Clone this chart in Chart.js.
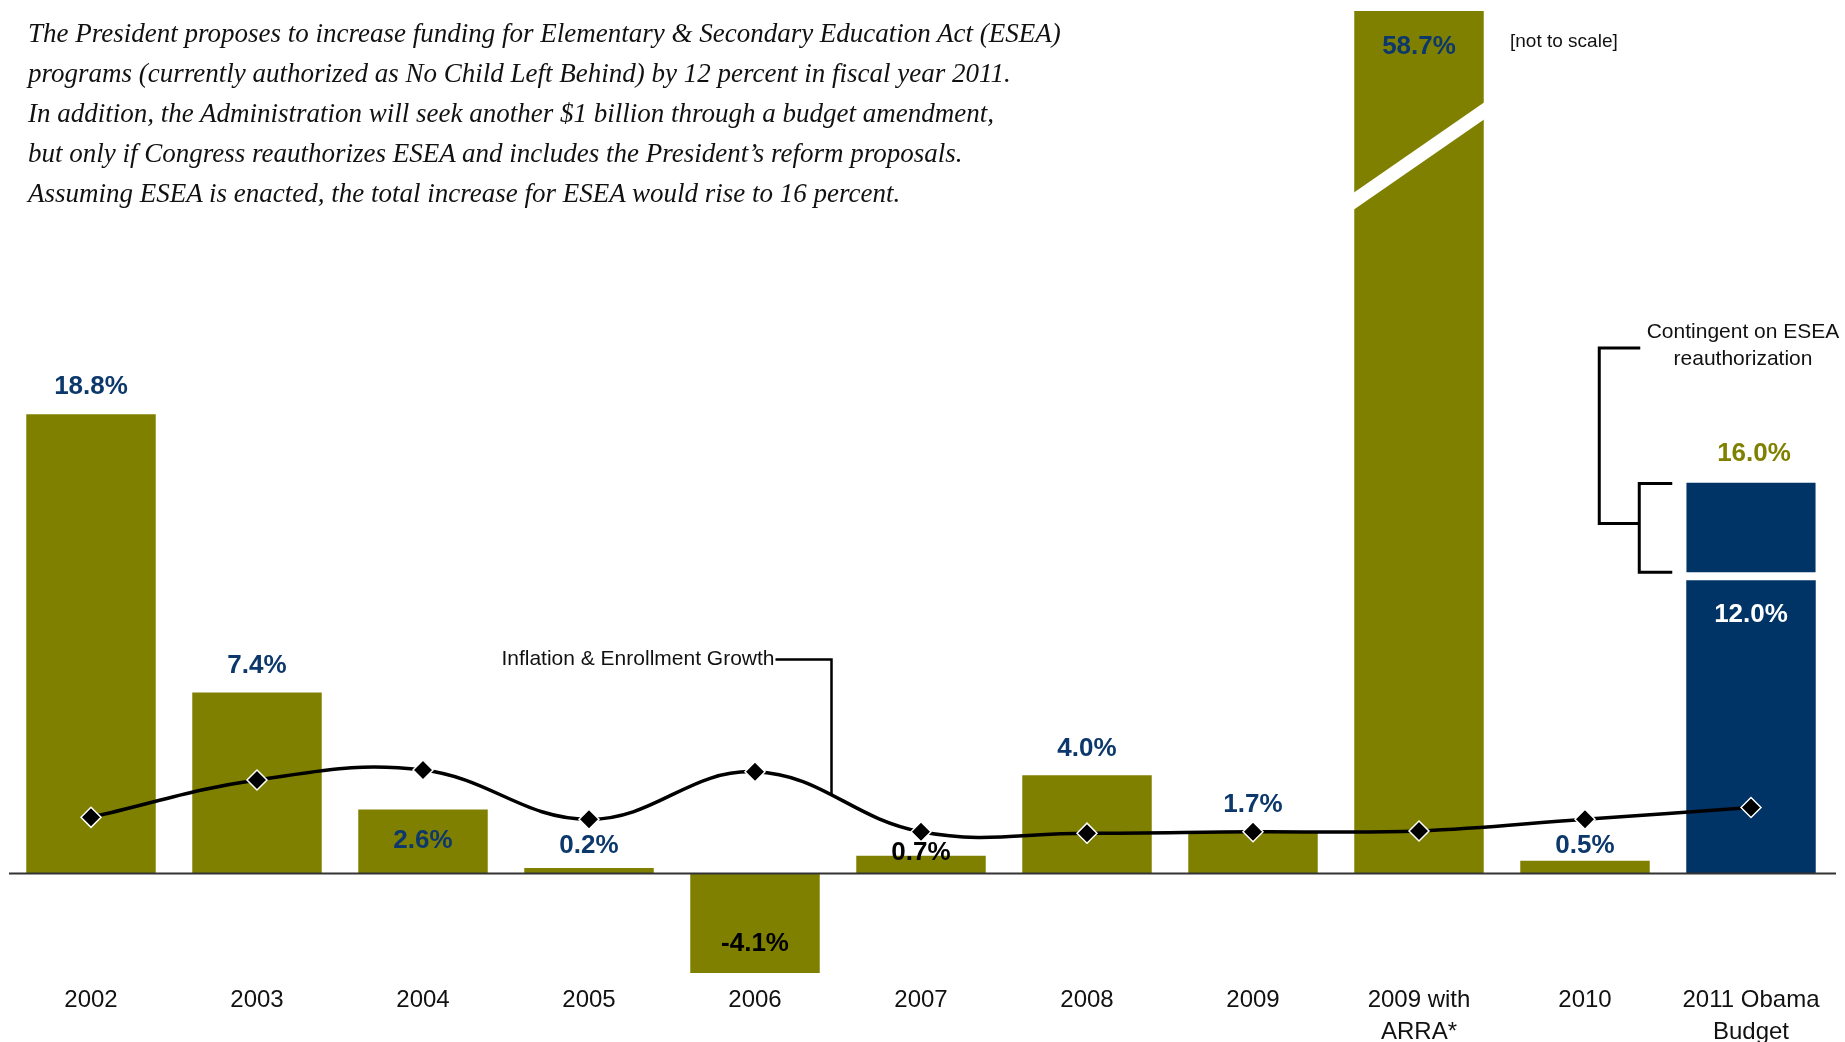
<!DOCTYPE html>
<html lang="en">
<head>
<meta charset="UTF-8">
<title>ESEA funding increases</title>
<script src="https://cdn.jsdelivr.net/npm/chart.js"></script>
<style>
  html, body { margin: 0; padding: 0; background: #fff; }
  #wrap { position: relative; width: 1845px; height: 1042px; overflow: hidden; }
  #chart { position: absolute; left: 0; top: 0; }
  #note {
    position: absolute; left: 28px; top: 13px;
    font-family: "Liberation Serif", "Times New Roman", serif;
    font-style: italic; font-size: 27px; line-height: 40px; color: #111;
    white-space: nowrap;
  }
</style>
</head>
<body>
<div id="wrap">
  <canvas id="chart" width="1845" height="1042"></canvas>
  <div id="note">
    The President proposes to increase funding for Elementary &amp; Secondary Education Act (ESEA)<br>
    programs (currently authorized as No Child Left Behind) by 12 percent in fiscal year 2011.<br>
    In addition, the Administration will seek another $1 billion through a budget amendment,<br>
    but only if Congress reauthorizes ESEA and includes the President’s reform proposals.<br>
    Assuming ESEA is enacted, the total increase for ESEA would rise to 16 percent.
  </div>
</div>

<script>
// --- data ---
const categories = ['2002', '2003', '2004', '2005', '2006', '2007', '2008', '2009',
  ['2009 with', 'ARRA*'], '2010', ['2011 Obama', 'Budget']];
const fundingIncrease = [18.8, 7.4, 2.6, 0.2, -4.1, 0.7, 4.0, 1.7, 58.7, 0.5, 12.0];
const contingentIncrease = [null, null, null, null, null, null, null, null, null, null, 4.0];
const inflationEnrollment = [2.28, 3.81, 4.22, 2.2, 4.15, 1.69, 1.63, 1.69, 1.72, 2.2, 2.68];

const OLIVE = '#808000';
const NAVY = '#003366';
const NAVY_TEXT = '#0c386b';

// label placement (pixel offset from bar end) and colours
const labelOffset = [-27, -27, 31, -22, -29, -3, -27, -27, 0, -15, 35];
const labelColor = [NAVY_TEXT, NAVY_TEXT, NAVY_TEXT, NAVY_TEXT, '#000', '#000',
  NAVY_TEXT, NAVY_TEXT, NAVY_TEXT, NAVY_TEXT, '#fff'];

Chart.defaults.font.family = '"Liberation Sans", Arial, sans-serif';
Chart.defaults.color = '#111';

const annotations = {
  id: 'annotations',
  afterDatasetsDraw(chart) {
    const { ctx, chartArea, scales: { x, y } } = chart;
    const bars = chart.getDatasetMeta(0).data;
    const step = x.getPixelForValue(1) - x.getPixelForValue(0);
    ctx.save();

    // "not to scale" break in the ARRA bar
    const arra = bars[8];
    const l = arra.x - arra.width / 2, r = arra.x + arra.width / 2;
    ctx.fillStyle = '#fff';
    ctx.beginPath();
    ctx.moveTo(l - 1, 193);
    ctx.lineTo(r + 1, 102);
    ctx.lineTo(r + 1, 119);
    ctx.lineTo(l - 1, 210);
    ctx.closePath();
    ctx.fill();

    // zero line
    ctx.strokeStyle = '#333';
    ctx.lineWidth = 2;
    const y0 = Math.round(y.getPixelForValue(0)) + 0.5;
    ctx.beginPath();
    ctx.moveTo(chartArea.left + 1, y0);
    ctx.lineTo(chartArea.right + 2, y0);
    ctx.stroke();

    // value labels
    ctx.font = 'bold 26px "Liberation Sans", Arial, sans-serif';
    ctx.textAlign = 'center';
    ctx.textBaseline = 'middle';
    fundingIncrease.forEach((v, i) => {
      const bx = bars[i].x;
      let by = v > y.max ? chartArea.top + 36 : y.getPixelForValue(v) + labelOffset[i];
      ctx.fillStyle = labelColor[i];
      ctx.fillText(v.toFixed(1) + '%', bx, by);
    });
    const top16 = y.getPixelForValue(fundingIncrease[10] + contingentIncrease[10]);
    ctx.fillStyle = OLIVE;
    ctx.fillText((fundingIncrease[10] + contingentIncrease[10]).toFixed(1) + '%', bars[10].x + 3, top16 - 29);

    // brackets for the contingent part
    const bar11 = bars[10];
    const bl = bar11.x - bar11.width / 2;
    const top12 = y.getPixelForValue(fundingIncrease[10]) - 8;
    ctx.strokeStyle = '#000';
    ctx.lineWidth = 3;
    const sx = bl - 47, sEnd = bl - 14;
    ctx.beginPath();
    ctx.moveTo(sEnd, top16 + 1);
    ctx.lineTo(sx, top16 + 1);
    ctx.lineTo(sx, top12);
    ctx.lineTo(sEnd, top12);
    const mid = (top16 + top12) / 2 - 4;
    ctx.moveTo(sx, mid);
    ctx.lineTo(sx - 40, mid);
    ctx.lineTo(sx - 40, 348);
    ctx.lineTo(sx + 1, 348);
    ctx.stroke();

    ctx.font = '21px "Liberation Sans", Arial, sans-serif';
    ctx.fillStyle = '#111';
    ctx.fillText('Contingent on ESEA', 1743, 332);
    ctx.fillText('reauthorization', 1743, 359);

    // inflation line callout
    const lx = Math.round(x.getPixelForValue(4) + step * 0.46) + 0.5;
    const ly = 659.5;
    ctx.lineWidth = 2.5;
    ctx.beginPath();
    ctx.moveTo(lx - 56, ly);
    ctx.lineTo(lx, ly);
    ctx.lineTo(lx, y.getPixelForValue(3.2));
    ctx.stroke();
    ctx.textAlign = 'right';
    ctx.fillText('Inflation & Enrollment Growth', lx - 57, ly);

    ctx.textAlign = 'left';
    ctx.font = '19px "Liberation Sans", Arial, sans-serif';
    ctx.fillText('[not to scale]', 1510, 42);
    ctx.restore();
  }
};

new Chart(document.getElementById('chart'), {
  data: {
    labels: categories,
    datasets: [
      {
        type: 'bar',
        label: 'ESEA funding increase',
        data: fundingIncrease,
        backgroundColor: fundingIncrease.map((v, i) => i === 10 ? NAVY : OLIVE),
        barPercentage: 0.78,
        categoryPercentage: 1,
        order: 1
      },
      {
        type: 'bar',
        label: 'Contingent on ESEA reauthorization',
        data: contingentIncrease,
        backgroundColor: NAVY,
        borderColor: '#fff',
        borderWidth: { top: 0, left: 0, right: 0, bottom: 8 },
        borderSkipped: false,
        barPercentage: 0.78,
        categoryPercentage: 1,
        order: 1
      },
      {
        type: 'line',
        label: 'Inflation & Enrollment Growth',
        data: inflationEnrollment,
        borderColor: '#000',
        borderWidth: 3.5,
        tension: 0.4,
        pointStyle: 'rectRot',
        pointRadius: 10,
        pointBackgroundColor: '#000',
        pointBorderColor: '#fff',
        pointBorderWidth: 1.5,
        order: 0
      }
    ]
  },
  options: {
    responsive: false,
    animation: false,
    layout: { autoPadding: false, padding: { top: 11, left: 8, right: 11, bottom: 0 } },
    plugins: { legend: { display: false }, tooltip: { enabled: false } },
    scales: {
      x: {
        stacked: true,
        grid: { display: false, drawTicks: false },
        border: { display: false },
        ticks: {
          font: { size: 24, lineHeight: 1.33 },
          color: '#111',
          padding: 2,
          maxRotation: 0,
          minRotation: 0,
          autoSkip: false
        },
        afterFit: axis => {
          axis.height = 60;
          axis.paddingLeft = 0;
          axis.paddingRight = 0;
        }
      },
      y: {
        stacked: true,
        display: false,
        min: -4.47,
        max: 35.33
      }
    }
  },
  plugins: [annotations]
});
</script>
</body>
</html>
